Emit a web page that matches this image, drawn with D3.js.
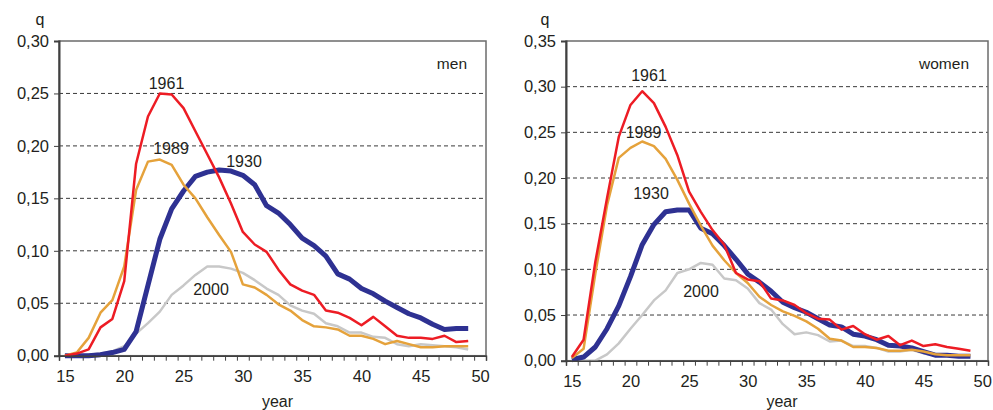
<!DOCTYPE html>
<html>
<head>
<meta charset="utf-8">
<script src="https://cdn.jsdelivr.net/npm/d3@7"></script>
<style>
  body { margin: 0; background: #fff; }
  svg text { font-family: 'Liberation Sans', Arial, sans-serif; fill: #231f20; }
</style>
</head>
<body>
<svg id="chart" width="993" height="410"></svg>
<script>
// ages (categories) and the tick labels of the x axis
const ages = [15, 16, 17, 18, 19, 20, 21, 22, 23, 24, 25, 26, 27, 28, 29, 30, 31, 32,
  33, 34, 35, 36, 37, 38, 39, 40, 41, 42, 43, 44, 45, 46, 47, 48, 49]
const xTickLabels = [15, 20, 25, 30, 35, 40, 45, 50]
const yTicksMen = [0, 0.05, 0.10, 0.15, 0.20, 0.25, 0.30]
const yTicksWomen = [0, 0.05, 0.10, 0.15, 0.20, 0.25, 0.30, 0.35]

// men, probability q by age
const men1930 = [0, 0, 0, 0.001, 0.003, 0.006, 0.023, 0.067, 0.111, 0.140, 0.157, 0.171, 0.175, 0.177,
  0.176, 0.172, 0.163, 0.143, 0.136, 0.125, 0.112, 0.105, 0.095, 0.078, 0.073, 0.064, 0.059, 0.052,
  0.046, 0.040, 0.036, 0.030, 0.025, 0.026, 0.026]
const men1961 = [0, 0.002, 0.006, 0.027, 0.035, 0.071, 0.183, 0.228, 0.250, 0.249, 0.236, 0.214, 0.192,
  0.170, 0.145, 0.118, 0.106, 0.099, 0.082, 0.068, 0.062, 0.058, 0.043, 0.041, 0.036, 0.029, 0.037,
  0.028, 0.019, 0.017, 0.017, 0.016, 0.019, 0.013, 0.014]
const men1989 = [0, 0.003, 0.017, 0.041, 0.053, 0.085, 0.158, 0.185, 0.187, 0.182, 0.163, 0.150, 0.132,
  0.115, 0.099, 0.068, 0.065, 0.058, 0.049, 0.043, 0.034, 0.028, 0.027, 0.025, 0.019, 0.019, 0.016,
  0.011, 0.014, 0.011, 0.008, 0.008, 0.009, 0.009, 0.009]
const men2000 = [0, 0, 0.001, 0.002, 0.004, 0.009, 0.021, 0.031, 0.042, 0.058, 0.067, 0.077, 0.085,
  0.085, 0.083, 0.079, 0.072, 0.064, 0.058, 0.048, 0.043, 0.040, 0.031, 0.028, 0.022, 0.022, 0.018,
  0.017, 0.011, 0.009, 0.011, 0.010, 0.009, 0.008, 0.006]

// women, probability q by age
const women1930 = [0.001, 0.004, 0.015, 0.035, 0.060, 0.092, 0.127, 0.149, 0.163, 0.165, 0.165, 0.145,
  0.139, 0.126, 0.111, 0.095, 0.086, 0.076, 0.064, 0.058, 0.053, 0.046, 0.039, 0.037, 0.029, 0.027,
  0.023, 0.017, 0.016, 0.014, 0.010, 0.006, 0.006, 0.005, 0.005]
const women1961 = [0.004, 0.023, 0.108, 0.178, 0.245, 0.280, 0.295, 0.282, 0.256, 0.225, 0.185, 0.163,
  0.143, 0.127, 0.096, 0.089, 0.087, 0.068, 0.066, 0.061, 0.052, 0.046, 0.045, 0.034, 0.038, 0.029,
  0.023, 0.027, 0.017, 0.022, 0.016, 0.018, 0.015, 0.013, 0.011]
const women1989 = [0.003, 0.013, 0.095, 0.170, 0.222, 0.233, 0.240, 0.235, 0.221, 0.198, 0.172, 0.148,
  0.126, 0.110, 0.096, 0.085, 0.070, 0.061, 0.054, 0.049, 0.043, 0.035, 0.024, 0.022, 0.015, 0.015,
  0.014, 0.011, 0.011, 0.012, 0.010, 0.007, 0.006, 0.006, 0.006]
const women2000 = [0, 0, 0, 0.007, 0.019, 0.035, 0.050, 0.066, 0.077, 0.096, 0.100, 0.107, 0.105,
  0.090, 0.088, 0.079, 0.063, 0.056, 0.040, 0.029, 0.031, 0.028, 0.021, 0.022, 0.016, 0.016, 0.014,
  0.010, 0.010, 0.012, 0.008, 0.006, 0.006, 0.005, 0.004]

const cohortStyle = {
  2000: { color: '#c8c8c8', width: 2.5 },
  1930: { color: '#2e3192', width: 5 },
  1989: { color: '#e5a23b', width: 2.5 },
  1961: { color: '#ed1c24', width: 2.5 }
}

const commaFormat = d3.formatLocale({ decimal: ',', thousands: ' ', grouping: [3], currency: ['', ''] }).format('.2f')

function drawPanel (svg, opt) {
  const x = d3.scaleLinear().domain([14.5, 50.5]).range([opt.left, opt.right])
  const y = d3.scaleLinear().domain([0, opt.yMax]).range([opt.bottom, opt.top])

  // dashed grid lines
  svg.append('g')
    .selectAll('line')
    .data(opt.yTicks.filter(d => d > 0 && d < opt.yMax))
    .enter()
    .append('line')
    .attr('x1', opt.left)
    .attr('x2', opt.right)
    .attr('y1', d => y(d))
    .attr('y2', d => y(d))
    .attr('stroke', '#3a3a3a')
    .attr('stroke-width', 1)
    .attr('stroke-dasharray', '4,3')

  // frame
  svg.append('rect')
    .attr('x', opt.left)
    .attr('y', opt.top)
    .attr('width', opt.right - opt.left)
    .attr('height', opt.bottom - opt.top)
    .attr('fill', 'none')
    .attr('stroke', '#6b6b6b')
    .attr('stroke-width', 1.5)

  // series
  const line = d3.line()
    .x((d, i) => x(ages[i]))
    .y(d => y(d))

  opt.series.forEach(function (s) {
    svg.append('path')
      .datum(s.values)
      .attr('d', line)
      .attr('fill', 'none')
      .attr('stroke', cohortStyle[s.label].color)
      .attr('stroke-width', cohortStyle[s.label].width)
      .attr('stroke-linejoin', 'round')
  })

  // y axis
  const yAxis = svg.append('g')
    .attr('transform', `translate(${opt.left},0)`)
    .call(d3.axisLeft(y).tickValues(opt.yTicks).tickSize(5).tickPadding(5).tickFormat(commaFormat))
  yAxis.select('.domain').attr('stroke', '#404040').attr('stroke-width', 2)
  yAxis.selectAll('.tick line').attr('stroke', '#404040')
  yAxis.selectAll('.tick text')
    .attr('font-size', 16.5)
    .attr('font-family', 'Liberation Sans, Arial, sans-serif')
    .attr('fill', '#231f20')

  // x axis: a tick between each pair of ages, labels every 5 years
  const halfSteps = d3.range(14.5, 51, 1)
  const xMinor = svg.append('g')
    .attr('transform', `translate(0,${opt.bottom})`)
    .call(d3.axisBottom(x).tickValues(halfSteps).tickSize(5).tickFormat(''))
  xMinor.select('.domain').attr('stroke', '#404040').attr('stroke-width', 1.5)
  xMinor.selectAll('.tick line').attr('stroke', '#404040')

  const xLabels = svg.append('g')
    .attr('transform', `translate(0,${opt.bottom})`)
    .call(d3.axisBottom(x).tickValues(xTickLabels).tickSize(0).tickPadding(15))
  xLabels.select('.domain').remove()
  xLabels.selectAll('.tick text')
    .attr('font-size', 16.5)
    .attr('font-family', 'Liberation Sans, Arial, sans-serif')
    .attr('fill', '#231f20')

  // axis titles and panel name
  svg.append('text')
    .attr('x', opt.qX)
    .attr('y', 25)
    .attr('text-anchor', 'middle')
    .attr('font-size', 16)
    .text('q')

  svg.append('text')
    .attr('x', (opt.left + opt.right) / 2 + 5)
    .attr('y', 407)
    .attr('text-anchor', 'middle')
    .attr('font-size', 16)
    .text('year')

  svg.append('text')
    .attr('x', opt.right - 19)
    .attr('y', 69)
    .attr('text-anchor', 'end')
    .attr('font-size', 15.5)
    .text(opt.name)

  // cohort labels
  svg.append('g')
    .selectAll('text')
    .data(opt.labels)
    .enter()
    .append('text')
    .attr('x', d => d.x)
    .attr('y', d => d.y)
    .attr('text-anchor', 'middle')
    .attr('font-size', 16)
    .text(d => d.text)
}

const svg = d3.select('#chart')

drawPanel(svg, {
  name: 'men',
  left: 59,
  right: 486,
  top: 41,
  bottom: 355.7,
  yMax: 0.30,
  yTicks: yTicksMen,
  qX: 40,
  series: [
    { label: 2000, values: men2000 },
    { label: 1930, values: men1930 },
    { label: 1989, values: men1989 },
    { label: 1961, values: men1961 }
  ],
  labels: [
    { text: '1961', x: 166.5, y: 89 },
    { text: '1989', x: 171, y: 154 },
    { text: '1930', x: 244, y: 166.5 },
    { text: '2000', x: 211, y: 295 }
  ]
})

drawPanel(svg, {
  name: 'women',
  left: 566,
  right: 988,
  top: 41,
  bottom: 360.7,
  yMax: 0.35,
  yTicks: yTicksWomen,
  qX: 545,
  series: [
    { label: 2000, values: women2000 },
    { label: 1930, values: women1930 },
    { label: 1989, values: women1989 },
    { label: 1961, values: women1961 }
  ],
  labels: [
    { text: '1961', x: 649, y: 80.5 },
    { text: '1989', x: 643.5, y: 137.5 },
    { text: '1930', x: 651, y: 198.5 },
    { text: '2000', x: 701, y: 296.5 }
  ]
})
</script>
</body>
</html>
